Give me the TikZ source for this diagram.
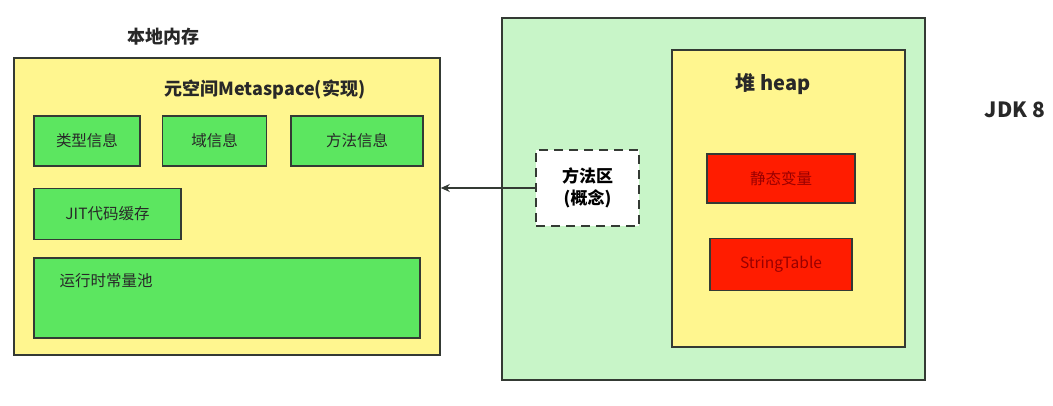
\documentclass[tikz,border=0pt]{standalone}
\usepackage{fontspec}
\setmainfont{Noto Sans CJK SC}
\usetikzlibrary{positioning,arrows.meta}

\definecolor{memyellow}{RGB}{255,246,143}
\definecolor{infogreen}{RGB}{92,230,96}
\definecolor{heapgreen}{RGB}{200,245,200}
\definecolor{heapred}{RGB}{255,28,0}
\definecolor{edgegray}{RGB}{52,58,52}
\definecolor{inkgray}{RGB}{40,40,40}

\begin{document}
\begin{tikzpicture}[
  x=1pt, y=-1pt,
  areabox/.style={
    draw=edgegray,
    line width=1.6pt,
    inner sep=0pt
  },
  framebox/.style={
    areabox,
    fill=memyellow
  },
  infobox/.style={
    areabox,
    fill=infogreen,
    minimum height=50pt,
    text=inkgray,
    font=\fontsize{15.5}{18}\selectfont
  },
  redbox/.style={
    areabox,
    fill=heapred,
    text=red!60!black,
    font=\fontsize{15.5}{18}\selectfont
  },
  conceptbox/.style={
    areabox,
    dashed,
    dash pattern=on 9pt off 6pt,
    line width=2pt,
    fill=white,
    align=center,
    font=\bfseries\fontsize{17}{22}\selectfont
  },
  title/.style={font=\bfseries\fontsize{18}{22}\selectfont, text=inkgray},
  boxtext/.style={font=\fontsize{15.5}{18}\selectfont, text=inkgray}
]
\useasboundingbox (0,0) rectangle (1053,406);

% native memory side
\node[framebox, minimum width=426pt, minimum height=297pt] (native) at (227,206.5) {};
\node[title] (nativelabel) at (163,37) {本地内存};
\node[title] (metalabel) at (265,90) {元空间Metaspace(实现)};

\node[infobox, minimum width=106pt, anchor=north west] (typeinfo) at ([xshift=20pt,yshift=-58pt]native.north west) {类型信息};
\node[infobox, minimum width=104pt, right=21pt of typeinfo] (fieldinfo) {域信息};
\node[infobox, minimum width=132pt, right=23pt of fieldinfo] (methodinfo) {方法信息};
\node[infobox, minimum width=147pt, minimum height=51pt, below=21pt of typeinfo.south west, anchor=north west] (jitcache) {JIT代码缓存};
\node[infobox, minimum width=386pt, minimum height=80pt, below=17pt of jitcache.south west, anchor=north west] (constpool) {};
\node[boxtext, anchor=west] (pooltext) at ([xshift=23pt,yshift=-23pt]constpool.north west) {运行时常量池};

% heap side
\node[areabox, fill=heapgreen, minimum width=423pt, minimum height=362pt] (jvmarea) at (713.5,199) {};
\node[framebox, minimum width=233pt, minimum height=297pt] (heap) at (788.5,198.5) {};
\node[title, font=\bfseries\fontsize{20}{24}\selectfont] (heaplabel) at (773,84) {堆 heap};
\node[redbox, minimum width=148pt, minimum height=49pt] (staticvars) at (781,178.5) {静态变量};
\node[redbox, minimum width=142pt, minimum height=52pt, below=34pt of staticvars] (stringtable) {StringTable};

\node[conceptbox, minimum width=103pt, minimum height=76pt] (methodarea) at (587.5,188) {方法区\\(概念)};

\node[title, font=\bfseries\fontsize{21}{24}\selectfont] (jdklabel) at (1015,110) {JDK 8};

\draw[edgegray, line width=1.4pt, -{Stealth[length=9pt,width=8pt]}] (methodarea.west) -- (methodarea.west -| native.east);

\end{tikzpicture}
\end{document}
